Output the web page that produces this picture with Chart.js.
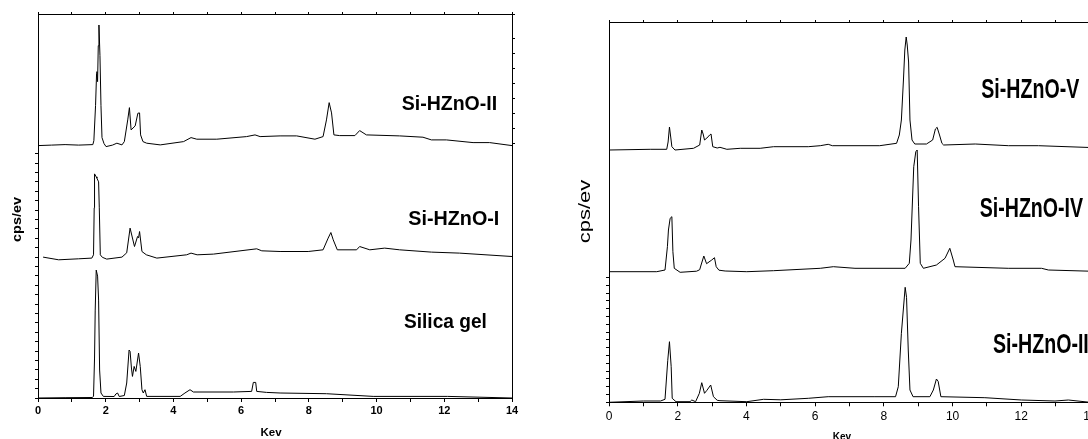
<!DOCTYPE html>
<html>
<head>
<meta charset="utf-8">
<script src="https://cdn.jsdelivr.net/npm/chart.js@4.4.1/dist/chart.umd.min.js"></script>
<style>
html,body{margin:0;padding:0;background:#fff;overflow:hidden;width:1088px;height:439px}
#left{position:absolute;left:0;top:0}
#right{position:absolute;left:555px;top:0}
</style>
</head>
<body>
<canvas id="left" width="525" height="439"></canvas>
<canvas id="right" width="545" height="444"></canvas>
<script>
/* EDX spectra, keV vs cps/ev (relative heights) */
var names = ['Silica gel','Si-HZnO-I','Si-HZnO-II','Si-HZnO-III','Si-HZnO-IV','Si-HZnO-V'];
var tickKev = [0,2,4,6,8,10,12,14];

var silicaKev = [0,0.8,1.6,1.64,1.67,1.69,1.72,1.76,1.79,1.82,1.86,1.93,2.25,2.3,2.35,2.4,2.55,2.62,2.69,2.72,2.76,2.79,2.84,2.89,2.97,3.02,3.07,3.11,3.16,3.21,4.2,4.34,4.49,4.59,5.77,6.31,6.36,6.43,6.46,6.75,7.15,8.52,9.9,12.1,14];
var silicaCps = [0,0.3,0.5,1.6,40,88,128,122,98,28,5,1.6,1.5,4,5,1.5,2.5,15,48,46.6,30,21.6,31.6,26.6,45,31.6,8.3,5,8.3,1.6,1.6,5,8.3,6,6,6.6,15.6,15.6,6.6,5.6,5,4.3,1.6,1.6,0];

var s1Kev = [0.15,0.61,1.2,1.59,1.64,1.66,1.67,1.72,1.74,1.79,1.81,1.84,1.9,2.03,2.48,2.62,2.72,2.85,2.94,2.97,3,3.07,3.2,3.51,4.39,4.52,4.7,5.18,6.46,6.61,7.15,7.98,8.42,8.57,8.65,8.72,8.84,9.41,9.5,9.8,10.24,10.68,11.62,12.45,14];
var s1Cps = [0.7,-2,-1,-0.3,3,50,84,81,79.7,76,50,3,0.5,-1.3,0.7,5,29.7,11.3,21.3,20,26.3,6.3,3,-0.3,3,4.7,3,3.7,9,7,6.3,6.3,8,19.7,25.3,18,8,8,11.3,8,9.7,8,5.7,4.7,1.3];

var s2Kev = [0,0.4,0.8,1.2,1.62,1.65,1.7,1.73,1.74,1.76,1.78,1.8,1.83,1.86,1.89,1.95,2.01,2.2,2.33,2.48,2.55,2.65,2.7,2.75,2.87,2.95,3,3.03,3.1,3.21,3.61,4.3,4.52,4.69,5.28,6.16,6.41,6.56,7.15,7.64,8.18,8.42,8.52,8.6,8.67,8.74,8.91,9.36,9.5,9.7,10.68,11.37,11.62,12.06,12.85,13.34,14];
var s2Cps = [0,0.5,1,0.5,1,5,40,72,74,64,100,120.7,90,40,8,2,-1,0.5,2.4,0.7,4,25.7,38,15.7,19.7,32.4,32.7,10.7,4,2.4,0.7,4,8,6.4,6.4,9,10.7,9,9.7,9.7,6.4,9,25.7,43,32.7,10.7,10,10,15,10.7,9.7,8.4,5.7,5.7,3,3,0];

var s3Kev = [0,1,1.5,1.63,1.71,1.76,1.81,1.84,1.95,2.36,2.41,2.52,2.63,2.7,2.78,2.85,2.96,3.04,3.15,3.23,4.01,4.5,5,5.8,6.38,7.74,8.34,8.42,8.51,8.62,8.66,8.71,8.76,8.85,9.34,9.44,9.53,9.58,9.66,10.94,12.01,12.98,13.37,14];
var s3Cps = [0,1.3,1.3,3,42,60.6,35.6,4,0.6,0.6,2.3,0.6,9,19.6,9,12,17.3,5.6,2,1.6,0.6,3,2.5,4,5.6,5.6,5.6,15.6,69,115,105,52.3,12.3,5.6,5.6,12.3,23.3,21,5.6,4.6,2.3,1.3,2.3,0];

var s4Kev = [0,1.39,1.63,1.7,1.73,1.78,1.83,1.86,1.9,2.07,2.55,2.64,2.68,2.76,2.84,2.99,3.07,3.12,3.2,3.38,4.01,4.79,6.15,6.53,7.16,8.62,8.74,8.79,8.87,8.93,8.97,9.01,9.06,9.15,9.53,9.78,9.92,10.02,10.07,11.62,12.59,12.79,14];
var s4Cps = [0,0,1.7,25,41.7,53.4,55,20,3.4,-0.6,0.5,2,6.7,15.7,8,11.7,14,5,1.5,0.7,0,1,3.4,5,3.4,3.4,8.4,31.7,105,120,121.7,65,8.4,3.4,6.7,13.4,23.4,11.7,5,3.4,3.4,1.7,0.5];

var s5Kev = [0,1.2,1.68,1.72,1.76,1.8,1.83,1.92,2.46,2.64,2.7,2.74,2.78,2.85,2.93,2.97,3.02,3.15,3.23,3.43,3.82,4.4,4.79,5.8,6.15,6.38,6.5,7.88,8.37,8.45,8.51,8.57,8.61,8.65,8.68,8.72,8.76,8.82,8.9,9.24,9.42,9.5,9.55,9.62,9.69,9.74,10.66,11.63,12.5,14];
var s5Cps = [0,0.7,0.7,8,23,12,3.3,0,1.7,5,20,16,10,12,15,16,3.3,2,2.7,0.7,1.7,1.7,3.3,3.3,4.3,5.7,4.3,4.3,6.7,15,30,70,100,113,105,88,30,10,6,6,10,21,22.7,15,6.7,5,6,4.3,4.3,2.5];

/* ------------------------------------------------------------ */
var textPlugin={id:'textMarks',afterDraw:function(chart,args,opts){
  var ctx=chart.ctx;
  (opts.items||[]).forEach(function(t){
    ctx.save();
    ctx.translate(t.x,t.y);
    if(t.rot) ctx.rotate(-Math.PI/2);
    ctx.scale(t.sx||1,1);
    ctx.font=t.font;ctx.fillStyle='#000';
    ctx.textAlign=t.align||'left';ctx.textBaseline='alphabetic';
    ctx.fillText(t.text,0,0);
    ctx.restore();
  });
}};

function pts(kev,cps,off){return kev.map(function(k,i){return {x:k,y:cps[i]+off};});}
function hideAbove(lim){return function(c){return c.tick&&c.tick.value>lim?'rgba(0,0,0,0)':'#000';};}
function hideBelow(lim){return function(c){return c.tick&&c.tick.value<lim?'rgba(0,0,0,0)':'#000';};}

function mkSpectra(id,sets,cfg){
  return new Chart(document.getElementById(id),{
    type:'line',
    data:{datasets:sets.map(function(s){return {label:s.name,data:pts(s.kev,s.cps,s.off),xAxisID:'x',yAxisID:'y',borderColor:'#000',borderWidth:1,pointRadius:0,tension:0,fill:false};})},
    options:{responsive:false,animation:false,devicePixelRatio:1,layout:{padding:0},
      plugins:{legend:{display:false},tooltip:{enabled:false},textMarks:{items:cfg.texts}},
      scales:{
        x:{type:'linear',position:'bottom',min:0,max:14,
          ticks:{stepSize:1,autoSkip:false,maxRotation:0,padding:cfg.tickPad,color:'#000',font:cfg.tickFont,
            callback:function(v){return tickKev.indexOf(v)>=0?String(v):'';}},
          grid:{drawOnChartArea:false,tickLength:4,color:'#000'},border:{color:'#000',width:1},
          afterFit:function(s){s.height=cfg.bottom;}},
        xt:{type:'linear',position:'top',min:0,max:14,ticks:{display:false,stepSize:1},
          grid:{drawOnChartArea:false,tickLength:2,color:'#000'},border:{color:'#000',width:1},
          afterFit:function(s){s.height=cfg.top;}},
        y:{type:'linear',position:'left',min:0,max:cfg.ymax,ticks:{display:false,stepSize:cfg.ystep},
          grid:{drawOnChartArea:false,tickLength:3,color:'#000',tickColor:hideAbove(cfg.ytickMax)},border:{color:'#000',width:1},
          afterFit:function(s){s.width=cfg.left;}},
        yr:{type:'linear',position:'right',min:0,max:cfg.ymax,ticks:{display:false,stepSize:15},
          grid:{drawOnChartArea:false,tickLength:3,color:'#000',tickColor:cfg.rightTicks?hideBelow(cfg.rightTicks):'rgba(0,0,0,0)'},border:{color:'#000',width:1},
          afterFit:function(s){s.width=cfg.right;}}
      }
    },
    plugins:[textPlugin]
  });
}

mkSpectra('left',[
  {name:names[0],kev:silicaKev,cps:silicaCps,off:0},
  {name:names[1],kev:s1Kev,cps:s1Cps,off:140.3},
  {name:names[2],kev:s2Kev,cps:s2Cps,off:252.6}
],{left:38,right:13,top:14,bottom:41,ymax:384.3,ystep:9.4,ytickMax:250,rightTicks:255,tickPad:2,
  tickFont:{family:'"Liberation Sans", Arial, sans-serif',size:11,weight:'bold'},
  texts:[
    {text:names[2],x:401.7,y:110,font:'bold 21px "Liberation Sans", Arial',sx:0.93},
    {text:names[1],x:408.3,y:225,font:'bold 21px "Liberation Sans", Arial',sx:0.94},
    {text:names[0],x:404,y:328,font:'bold 21px "Liberation Sans", Arial',sx:0.91},
    {text:'cps/ev',x:20.5,y:219.5,rot:true,align:'center',font:'bold 12px "Liberation Sans", Arial',sx:1.2},
    {text:'Kev',x:271,y:435.5,align:'center',font:'bold 11.5px "Liberation Sans", Arial'}
  ]});

mkSpectra('right',[
  {name:names[3],kev:s3Kev,cps:s3Cps,off:0},
  {name:names[4],kev:s4Kev,cps:s4Cps,off:130.6},
  {name:names[5],kev:s5Kev,cps:s5Cps,off:252.3}
],{left:54,right:10,top:22,bottom:41.7,ymax:380.3,ystep:7.8,ytickMax:131,rightTicks:0,tickPad:3,
  tickFont:{family:'"Liberation Sans Narrow", "Liberation Sans", Arial, sans-serif',size:12},
  texts:[
    {text:names[5],x:981.3-555,y:98.3,font:'bold 28px "Liberation Sans", Arial',sx:0.7},
    {text:names[4],x:979.7-555,y:217.3,font:'bold 28px "Liberation Sans", Arial',sx:0.7},
    {text:names[3],x:993-555,y:353.3,font:'bold 28px "Liberation Sans", Arial',sx:0.7},
    {text:'cps/ev',x:589.7-555,y:211.5,rot:true,align:'center',font:'16px "Liberation Sans", Arial',sx:1.37},
    {text:'Kev',x:842-555,y:439.5,align:'center',font:'bold 10px "Liberation Sans", Arial'}
  ]});
</script>
</body>
</html>
